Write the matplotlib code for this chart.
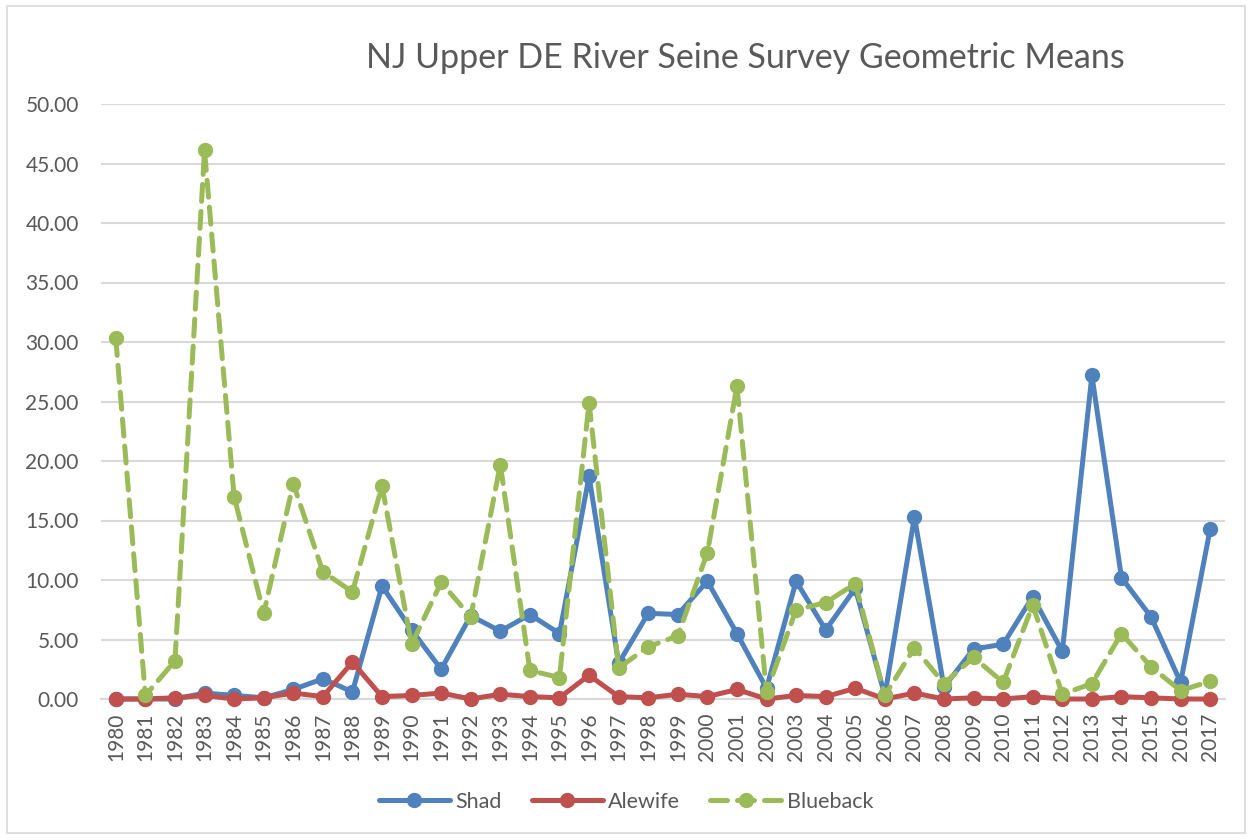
import matplotlib.pyplot as plt
from matplotlib.patches import Rectangle

years = list(range(1980, 2018))

shad = [0.0, 0.0, 0.0, 0.5, 0.3, 0.1, 0.8, 1.7, 0.6, 9.5,
        5.8, 2.5, 7.0, 5.7, 7.1, 5.5, 18.7, 3.0, 7.2, 7.1,
        9.9, 5.5, 0.9, 9.9, 5.8, 9.3, 0.3, 15.3, 1.0, 4.2,
        4.6, 8.6, 4.0, 27.2, 10.2, 6.9, 1.4, 14.3]

alewife = [0.0, 0.0, 0.1, 0.3, 0.0, 0.1, 0.5, 0.2, 3.1, 0.2,
           0.3, 0.5, 0.0, 0.4, 0.2, 0.1, 2.0, 0.2, 0.1, 0.4,
           0.2, 0.8, 0.0, 0.3, 0.2, 0.9, 0.0, 0.5, 0.0, 0.1,
           0.0, 0.2, 0.0, 0.0, 0.2, 0.1, 0.0, 0.0]

blueback = [30.3, 0.3, 3.2, 46.1, 17.0, 7.2, 18.1, 10.7, 9.0, 17.9,
            4.6, 9.8, 6.9, 19.7, 2.4, 1.8, 24.9, 2.6, 4.4, 5.3,
            12.3, 26.3, 0.6, 7.5, 8.1, 9.7, 0.3, 4.3, 1.3, 3.5,
            1.4, 7.9, 0.4, 1.3, 5.5, 2.7, 0.7, 1.5]

SHAD_COLOR = "#4F81BD"
ALEWIFE_COLOR = "#C0504D"
BLUEBACK_COLOR = "#9BBB59"
GRID_COLOR = "#D9D9D9"
TEXT_COLOR = "#595959"

plt.rcParams["font.family"] = ["Lato", "DejaVu Sans"]

W, H = 1253, 839
fig = plt.figure(figsize=(W / 100, H / 100), dpi=100)

# outer chart border
fig.patches.append(Rectangle((7 / W, 6 / H), 1238 / W, 827 / H, transform=fig.transFigure,
                             fill=False, edgecolor=GRID_COLOR, linewidth=1.2))

ax = fig.add_axes([101 / W, (H - 699) / H, 1124 / W, 595 / H])
x = list(range(len(years)))

line_kw = dict(linewidth=3.6, marker="o", markersize=10, solid_capstyle="round",
               dash_capstyle="round", clip_on=False)
ax.plot(x, shad, color=SHAD_COLOR, label="Shad", zorder=3, **line_kw)
ax.plot(x, alewife, color=ALEWIFE_COLOR, label="Alewife", zorder=4, **line_kw)
ax.plot(x, blueback, color=BLUEBACK_COLOR, label="Blueback", linestyle=(0, (3.4, 2.0)),
        zorder=5, **line_kw)

ax.set_xlim(-0.5, len(years) - 0.5)
ax.set_ylim(0, 50)
ax.set_yticks(range(0, 51, 5))
ax.set_yticklabels([f"{v:.2f}" for v in range(0, 51, 5)])
ax.set_xticks(x)
ax.set_xticklabels([str(y) for y in years], rotation=90)
ax.tick_params(axis="both", length=0, colors=TEXT_COLOR, labelsize=15)
ax.tick_params(axis="y", pad=16)
ax.tick_params(axis="x", pad=10)

ax.grid(axis="y", color=GRID_COLOR, linewidth=1.5, zorder=0)
ax.set_axisbelow(True)
for side in ["top", "right", "left"]:
    ax.spines[side].set_visible(False)
ax.spines["bottom"].set_color(GRID_COLOR)
ax.spines["bottom"].set_linewidth(1.5)

fig.text(745 / W, 1 - 58 / H, "NJ Upper DE River Seine Survey Geometric Means",
         ha="center", va="center", fontsize=24.5, color=TEXT_COLOR)

fig.legend(loc="center", bbox_to_anchor=(626 / W, 1 - 802 / H), ncol=3, frameon=False,
           fontsize=15.5, labelcolor=TEXT_COLOR, handlelength=3.3, columnspacing=1.4,
           handletextpad=0.25)

fig.savefig("out.png", dpi=100, facecolor="white")
